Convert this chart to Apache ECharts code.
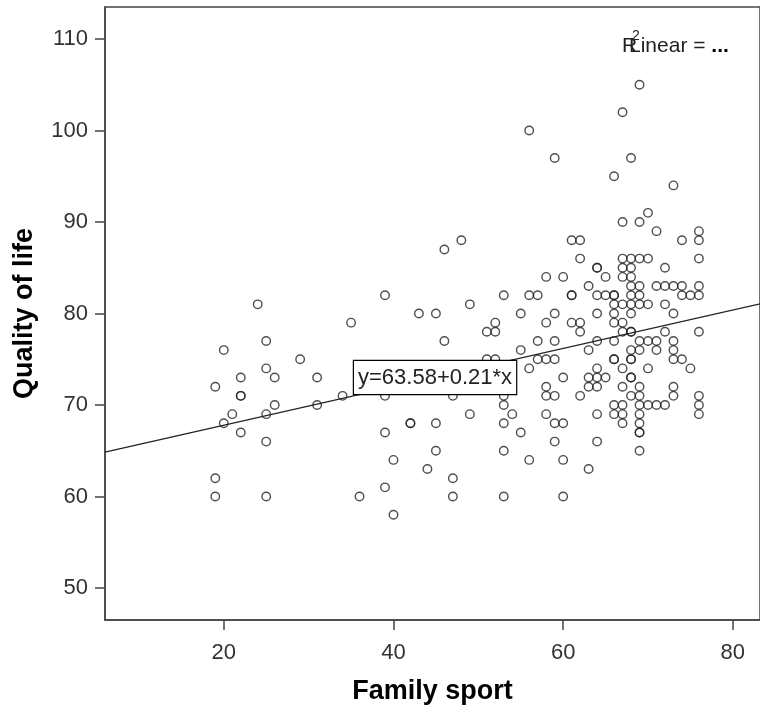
<!DOCTYPE html>
<html><head><meta charset="utf-8">
<script src="https://cdn.jsdelivr.net/npm/echarts@6/dist/echarts.min.js"></script>
<style>html,body{margin:0;padding:0;background:#fff}#c{width:760px;height:713px}</style>
</head><body><div id="c"></div>
<script>
// Family sport scores (x) and the Quality of life values observed at each score (y)
const sportScores = [19,20,21,22,24,25,26,29,31,34,35,36,39,40,42,43,44,45,46,47,48,49,51,52,53,54,55,56,57,58,59,60,61,62,63,64,65,66,67,68,69,70,71,72,73,74,75,76];
const lifeAtScore = [
  [72,62,60],[76,68],[69],[73,71,71,67],[81],[77,74,69,66,60],[73,70],[75],[73,70],[71],
  [79],[60],[82,71,67,61],[64,58],[68,68],[80],[63],[80,68,65],[87,77],[71,62,60],
  [88],[81,69],[78,75],[79,78,75],[82,71,70,68,65,60],[69],[80,76,67],[100,82,74,64],[82,77,75],[84,79,75,72,71,69],
  [97,80,77,75,71,68,66],[84,73,68,64,60],[88,82,82,79],[88,86,79,78,71],[83,76,73,72,63],
  [85,85,82,80,77,74,73,72,69,66],[84,82,73],[95,82,82,81,80,79,77,75,75,70,69],
  [102,90,86,85,84,81,79,78,74,72,70,69,68],
  [97,86,85,84,83,82,81,80,78,78,76,75,75,73,73,71],
  [105,90,86,83,82,81,77,76,72,71,70,69,68,67,67,65],
  [91,86,81,77,74,70],[89,83,77,76,70],[85,83,81,78,70],[94,83,80,77,76,75,72,71],
  [88,83,82,75],[82,74],[89,88,86,83,82,78,71,70,69]
];
const xTicks = [20,40,60,80];
const yTicks = [50,60,70,80,90,100,110];
const fitIntercept = 63.58;
const fitSlope = 0.21;
const fitLabel = 'y=63.58+0.21*x';
const fitLabelAtSport = 44.9;

const xMin = 6, xMax = 83.2, yMin = 46.5, yMax = 113.5;
const font = '"Liberation Sans", Arial, sans-serif';

const points = [];
sportScores.forEach((s, i) => lifeAtScore[i].forEach(v => points.push([s, v])));
const fit = x => fitIntercept + fitSlope * x;

const chart = echarts.init(document.getElementById('c'));
chart.setOption({
  animation: false,
  backgroundColor: '#fff',
  grid: {left: 105, right: -2, top: 7, bottom: 93, show: true, borderColor: '#444', borderWidth: 1.5},
  xAxis: {
    type: 'value', min: xMin, max: xMax,
    name: 'Family sport', nameLocation: 'middle', nameGap: 58,
    nameTextStyle: {fontFamily: font, fontWeight: 'bold', fontSize: 27, color: '#000'},
    axisLine: {show: true, lineStyle: {color: '#444', width: 1.5}},
    axisTick: {show: true, inside: false, length: 10, lineStyle: {color: '#444', width: 1.5}, customValues: xTicks},
    axisLabel: {fontFamily: font, fontSize: 22, color: '#333', margin: 22, customValues: xTicks},
    splitLine: {show: false}
  },
  yAxis: {
    type: 'value', min: yMin, max: yMax,
    name: 'Quality of life', nameLocation: 'middle', nameGap: 67, nameRotate: 90,
    nameTextStyle: {fontFamily: font, fontWeight: 'bold', fontSize: 27, color: '#000'},
    axisLine: {show: true, lineStyle: {color: '#444', width: 1.5}},
    axisTick: {show: true, inside: false, length: 10, lineStyle: {color: '#444', width: 1.5}, customValues: yTicks},
    axisLabel: {fontFamily: font, fontSize: 22, color: '#333', margin: 17, customValues: yTicks},
    splitLine: {show: false}
  },
  graphic: [
    {type: 'text', left: 622, top: 36, style: {text: 'R', font: '21px "Liberation Sans", Arial', fill: '#222'}},
    {type: 'text', left: 632, top: 29, style: {text: '2', font: '14px "Liberation Sans", Arial', fill: '#222'}},
    {type: 'text', left: 629, top: 36, style: {
      text: '{a|Linear = }{b|...}',
      rich: {a: {font: '21px "Liberation Sans", Arial', fill: '#222'}, b: {font: 'bold 21px "Liberation Sans", Arial', fill: '#000'}}
    }}
  ],
  series: [
    {
      type: 'line', silent: true, symbol: 'none', z: 1,
      data: [[xMin, fit(xMin)], [xMax, fit(xMax)]],
      lineStyle: {color: '#222', width: 1.2}
    },
    {
      type: 'scatter', z: 2, symbol: 'circle', symbolSize: 8.5,
      data: points,
      itemStyle: {color: 'rgba(0,0,0,0)', borderColor: '#222', borderWidth: 1.4}
    },
    {
      type: 'scatter', z: 10, zlevel: 1, symbolSize: 1, silent: true,
      data: [[fitLabelAtSport, fit(fitLabelAtSport)]],
      itemStyle: {color: 'rgba(0,0,0,0)', opacity: 1},
      emphasis: {disabled: true},
      label: {
        show: true, position: 'inside', formatter: fitLabel, opacity: 1,
        fontFamily: font, fontSize: 22, color: '#222',
        backgroundColor: '#ffffff', borderColor: '#000', borderWidth: 1.2, padding: [6, 4, 5, 4]
      }
    }
  ]
});
</script></body></html>
